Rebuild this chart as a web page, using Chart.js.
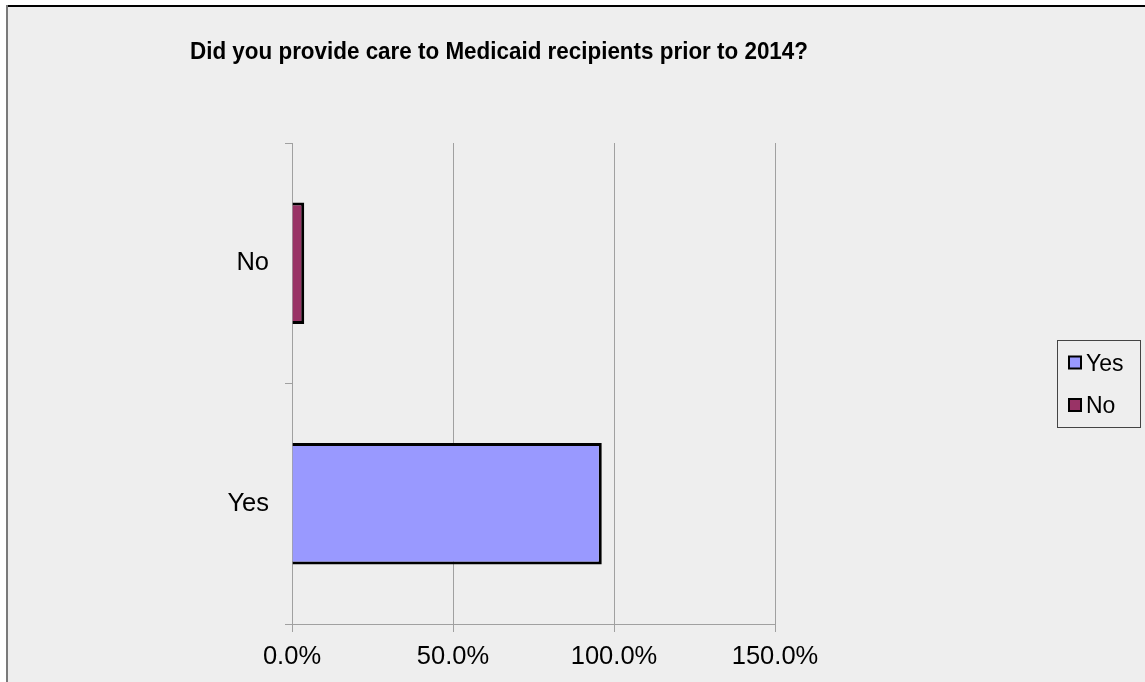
<!DOCTYPE html>
<html>
<head>
<meta charset="utf-8">
<script src="https://cdn.jsdelivr.net/npm/chart.js@4/dist/chart.umd.min.js"></script>
<style>
  html, body { margin: 0; padding: 0; background: #ffffff; }
  #wrap { width: 1145px; height: 682px; position: relative; }
</style>
</head>
<body>
<div id="wrap"><canvas id="c" width="1145" height="682"></canvas></div>
<script>
// Survey answers and their share of respondents (percent)
const categories = ['Yes', 'No'];
const shares = [96.2, 3.8];
const barColors = ['#9999ff', '#993366'];
const axisTicks = [0, 50, 100, 150];
const titleText = 'Did you provide care to Medicaid recipients prior to 2014?';

const FONT = '"Liberation Sans", Arial, sans-serif';

// Frame, panel background, title and boxed legend
const decorations = {
  id: 'decorations',
  beforeDraw(chart) {
    const ctx = chart.ctx;
    const W = chart.width, H = chart.height;
    ctx.save();
    ctx.fillStyle = '#ffffff';
    ctx.fillRect(0, 0, W, H);
    ctx.fillStyle = '#eeeeee';
    ctx.fillRect(7, 7, W - 7, H - 7);
    ctx.fillStyle = '#000000';
    ctx.fillRect(6, 5, W - 6, 2);
    ctx.fillStyle = '#7a7a7a';
    ctx.fillRect(6, 5, 2, H - 5);
    ctx.restore();
  },
  afterDraw(chart) {
    const ctx = chart.ctx;
    ctx.save();
    // title, set slightly condensed so it spans 618px centred at x=499
    ctx.fillStyle = '#000000';
    ctx.font = 'bold 24px ' + FONT;
    ctx.textAlign = 'center';
    ctx.textBaseline = 'alphabetic';
    const tw = ctx.measureText(titleText).width;
    const sx = Math.min(1, 618 / tw);
    ctx.translate(499, 59);
    ctx.scale(sx, 1);
    ctx.fillText(titleText, 0, 0);
    ctx.setTransform(1, 0, 0, 1, 0, 0);

    // legend box
    const bx = 1057.5, by = 340.5, bw = 83, bh = 87;
    ctx.strokeStyle = '#444444';
    ctx.lineWidth = 1;
    ctx.strokeRect(bx, by, bw, bh);
    ctx.font = '23px ' + FONT;
    ctx.textAlign = 'left';
    const rows = [370.5, 413];
    categories.forEach((name, i) => {
      const sy = rows[i] - 14;
      ctx.fillStyle = barColors[i];
      ctx.fillRect(1069, sy, 12, 12);
      ctx.strokeStyle = '#000000';
      ctx.lineWidth = 2;
      ctx.strokeRect(1069, sy, 12, 12);
      ctx.fillStyle = '#000000';
      ctx.fillText(name, 1086, rows[i]);
    });
    ctx.restore();
  }
};

new Chart(document.getElementById('c'), {
  type: 'bar',
  data: {
    labels: categories,
    datasets: [{
      data: shares,
      backgroundColor: barColors,
      borderColor: '#000000',
      borderWidth: 3,
      borderSkipped: 'start',
      barPercentage: 0.505,
      categoryPercentage: 1.0
    }]
  },
  options: {
    indexAxis: 'y',
    responsive: false,
    animation: false,
    devicePixelRatio: 1,
    layout: { padding: { top: 143, left: 0, right: 370, bottom: 0 } },
    plugins: {
      legend: { display: false },
      title: { display: false },
      tooltip: { enabled: false }
    },
    scales: {
      x: {
        type: 'linear',
        min: axisTicks[0],
        max: axisTicks[axisTicks.length - 1],
        afterBuildTicks(scale) { scale.ticks = axisTicks.map(v => ({ value: v })); },
        afterFit(scale) { scale.height = 58; },
        grid: { color: '#a0a0a0', lineWidth: 1, tickLength: 8, drawOnChartArea: true },
        border: { color: '#a0a0a0', width: 1 },
        ticks: {
          color: '#000000',
          padding: 10,
          font: { family: FONT, size: 25.5 },
          callback: v => v.toFixed(1) + '%'
        }
      },
      y: {
        reverse: true,
        z: 1,
        afterFit(scale) { scale.width = 292; },
        grid: { color: '#a0a0a0', lineWidth: 1, tickLength: 7, drawOnChartArea: false, offset: true },
        border: { color: '#a0a0a0', width: 1 },
        ticks: {
          color: '#000000',
          padding: 16,
          font: { family: FONT, size: 25.5 }
        }
      }
    }
  },
  plugins: [decorations]
});
</script>
</body>
</html>
